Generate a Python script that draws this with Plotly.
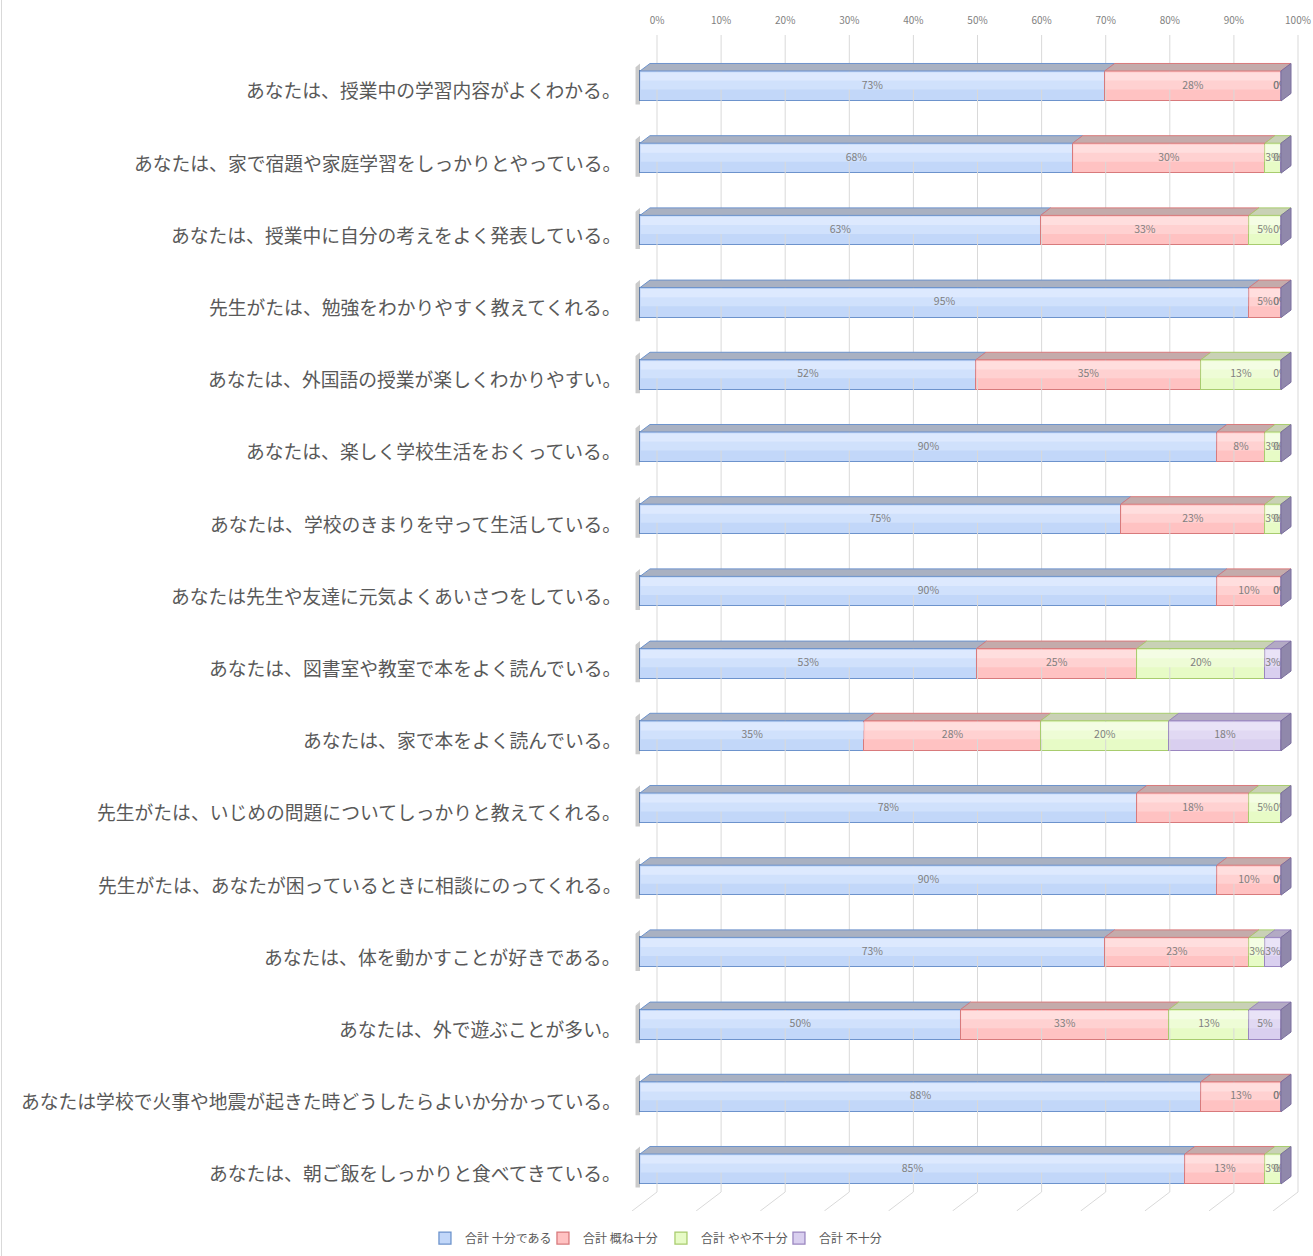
import math
import plotly.graph_objects as go

# ---------------- data ----------------
questions = [
    "あなたは、授業中の学習内容がよくわかる。",
    "あなたは、家で宿題や家庭学習をしっかりとやっている。",
    "あなたは、授業中に自分の考えをよく発表している。",
    "先生がたは、勉強をわかりやすく教えてくれる。",
    "あなたは、外国語の授業が楽しくわかりやすい。",
    "あなたは、楽しく学校生活をおくっている。",
    "あなたは、学校のきまりを守って生活している。",
    "あなたは先生や友達に元気よくあいさつをしている。",
    "あなたは、図書室や教室で本をよく読んでいる。",
    "あなたは、家で本をよく読んでいる。",
    "先生がたは、いじめの問題についてしっかりと教えてくれる。",
    "先生がたは、あなたが困っているときに相談にのってくれる。",
    "あなたは、体を動かすことが好きである。",
    "あなたは、外で遊ぶことが多い。",
    "あなたは学校で火事や地震が起きた時どうしたらよいか分かっている。",
    "あなたは、朝ご飯をしっかりと食べてきている。",
]
series_names = ["合計 十分である", "合計 概ね十分", "合計 やや不十分", "合計 不十分"]
juubun   = [72.5, 67.5, 62.5, 95.0, 52.4, 90.0, 75.0, 90.0, 52.5, 35.0, 77.5, 90.0, 72.5, 50.0, 87.5, 85.0]
omune    = [27.5, 30.0, 32.5, 5.0, 35.1, 7.5, 22.5, 10.0, 25.0, 27.5, 17.5, 10.0, 22.5, 32.5, 12.5, 12.5]
yaya     = [0.0, 2.5, 5.0, 0.0, 12.5, 2.5, 2.5, 0.0, 20.0, 20.0, 5.0, 0.0, 2.5, 12.5, 0.0, 2.5]
fujuubun = [0.0, 0.0, 0.0, 0.0, 0.0, 0.0, 0.0, 0.0, 2.5, 17.5, 0.0, 0.0, 2.5, 5.0, 0.0, 0.0]
tick_values = [0, 10, 20, 30, 40, 50, 60, 70, 80, 90, 100]
tick_labels = ["0%", "10%", "20%", "30%", "40%", "50%", "60%", "70%", "80%", "90%", "100%"]

# ---------------- style ----------------
series = [juubun, omune, yaya, fujuubun]
front_colors = ["#c2d7f9", "#ffc2c2", "#e7fbc6", "#d9cfef"]
mid_colors = ["#d0e1fc", "#ffd1d1", "#eefcd6", "#e1d9f3"]
light_colors = ["#dde9fe", "#ffdede", "#f4fde4", "#e9e3f7"]
edge_colors = ["#6d93cc", "#d87a7c", "#a8cc6e", "#9a86c0"]
top_colors = ["#a9b1c2", "#c4abab", "#c9d1b6", "#b3aac4"]
side_color = "#9088ab"
side_edge = "#7a6e9e"
label_gray = "#595959"
text_gray = "#7f7f7f"
FONT = "Noto Sans CJK JP"

n = len(questions)
ys = list(range(n))
bar_h = 0.415       # bar thickness in category units
dx, dy = 1.56, 0.104  # 3D depth offset (x in %, y in category units)
x_range = [-3.12, 104.99]
back_shift = 2.652
y_top, y_bot = -0.706, 15.582
floor_back = 15.319

fig = go.Figure()

# gridlines (back wall + floor)
gx, gy = [], []
for t in tick_values:
    gx += [t + back_shift, t + back_shift, t - 1.248, None]
    gy += [y_top, floor_back, y_bot, None]
fig.add_trace(go.Scatter(x=gx, y=gy, mode="lines", line=dict(color="#d9d9d9", width=1),
                         hoverinfo="skip", showlegend=False))

# left shadow of each bar
sx, sy = [], []
for i in ys:
    sx += [-0.7, 0, 0, -0.7, -0.7, None]
    sy += [i - bar_h / 2 - dy * 0.5, i - bar_h / 2 - dy, i + bar_h / 2 + 0.05, i + bar_h / 2 + 0.05,
           i - bar_h / 2 - dy * 0.5, None]
fig.add_trace(go.Scatter(x=sx, y=sy, mode="lines", fill="toself", fillcolor="rgba(70,70,70,0.28)",
                         line=dict(width=0), hoverinfo="skip", showlegend=False))

# front faces
for k, vals in enumerate(series):
    fig.add_trace(go.Bar(
        y=ys, x=vals, orientation="h", width=bar_h, name=series_names[k],
        marker=dict(color=front_colors[k], line=dict(color=edge_colors[k], width=1.3)),
        textposition="none", hoverinfo="skip",
    ))

# lighter upper bands of the front faces (gradient feel)
for band_colors, frac in ((mid_colors, 0.62), (light_colors, 0.32)):
    cum = [0.0] * n
    for k, vals in enumerate(series):
        hx, hy = [], []
        for i in ys:
            if vals[i] > 0:
                x0 = cum[i] + 0.12
                x1 = cum[i] + vals[i] - 0.12
                yt = i - bar_h / 2 + 0.02
                ym = i - bar_h / 2 + bar_h * frac
                hx += [x0, x1, x1, x0, x0, None]
                hy += [yt, yt, ym, ym, yt, None]
        fig.add_trace(go.Scatter(x=hx, y=hy, mode="lines", fill="toself", fillcolor=band_colors[k],
                                 line=dict(width=0), hoverinfo="skip", showlegend=False))
        cum = [cum[i] + vals[i] for i in ys]

# top faces
cum = [0.0] * n
for k, vals in enumerate(series):
    px, py = [], []
    for i in ys:
        x0 = cum[i]
        x1 = cum[i] + vals[i]
        if vals[i] > 0:
            yt = i - bar_h / 2
            px += [x0, x1, x1 + dx, x0 + dx, x0, None]
            py += [yt, yt, yt - dy, yt - dy, yt, None]
    fig.add_trace(go.Scatter(x=px, y=py, mode="lines", fill="toself", fillcolor=top_colors[k],
                             line=dict(color=edge_colors[k], width=1), hoverinfo="skip", showlegend=False))
    cum = [cum[i] + vals[i] for i in ys]

# data labels
tx, ty, tt = [], [], []
cum = [0.0] * n
for k, vals in enumerate(series):
    for i in ys:
        tx.append(cum[i] + vals[i] / 2)
        ty.append(i)
        tt.append(f"{math.floor(vals[i] + 0.5)}%")
    cum = [cum[i] + vals[i] for i in ys]
fig.add_trace(go.Scatter(x=tx, y=ty, text=tt, mode="text",
                         textfont=dict(family=FONT, size=10.5, color=text_gray),
                         hoverinfo="skip", showlegend=False))

# right side faces
rx, ry = [], []
for i in ys:
    xe = cum[i]
    yt, yb = i - bar_h / 2, i + bar_h / 2
    rx += [xe, xe + dx, xe + dx, xe, xe, None]
    ry += [yt, yt - dy, yb - dy, yb, yt, None]
fig.add_trace(go.Scatter(x=rx, y=ry, mode="lines", fill="toself", fillcolor=side_color,
                         line=dict(color=side_edge, width=1), hoverinfo="skip", showlegend=False))

# dummy trace for the top (back wall) axis
fig.add_trace(go.Scatter(x=[0], y=[0], xaxis="x2", mode="markers", marker=dict(opacity=0),
                         hoverinfo="skip", showlegend=False))

# category labels
annotations = []
for i, q in enumerate(questions):
    annotations.append(dict(x=0, xref="paper", xanchor="right", xshift=3,
                            y=i, yref="y", yshift=-4, text=q, showarrow=False,
                            font=dict(family=FONT, size=18.8, color=label_gray)))

fig.update_layout(
    width=1313, height=1256,
    margin=dict(l=620, r=0, t=35, b=45),
    paper_bgcolor="white", plot_bgcolor="white",
    barmode="stack", bargap=0,
    font=dict(family=FONT, color=label_gray),
    hovermode=False,
    xaxis=dict(range=x_range, visible=False, fixedrange=True),
    xaxis2=dict(range=[x_range[0] - back_shift, x_range[1] - back_shift], overlaying="x", side="top",
                tickvals=tick_values, ticktext=tick_labels, showgrid=False, zeroline=False,
                showline=False, ticks="", tickfont=dict(family=FONT, size=10, color=text_gray),
                ticklabelstandoff=8),
    yaxis=dict(range=[y_bot, y_top], visible=False, fixedrange=True),
    legend=dict(orientation="h", xref="container", yref="container", x=0.5034, y=0.0143,
                xanchor="center", yanchor="middle", font=dict(family=FONT, size=12, color=label_gray),
                itemwidth=30, traceorder="normal", entrywidth=73, entrywidthmode="pixels"),
    annotations=annotations,
    shapes=[dict(type="line", xref="paper", yref="paper", x0=-0.8925, x1=-0.8925, y0=-0.04, y1=1.03,
                 line=dict(color="#d9d9d9", width=1))],
)

fig.write_html("out.html")
